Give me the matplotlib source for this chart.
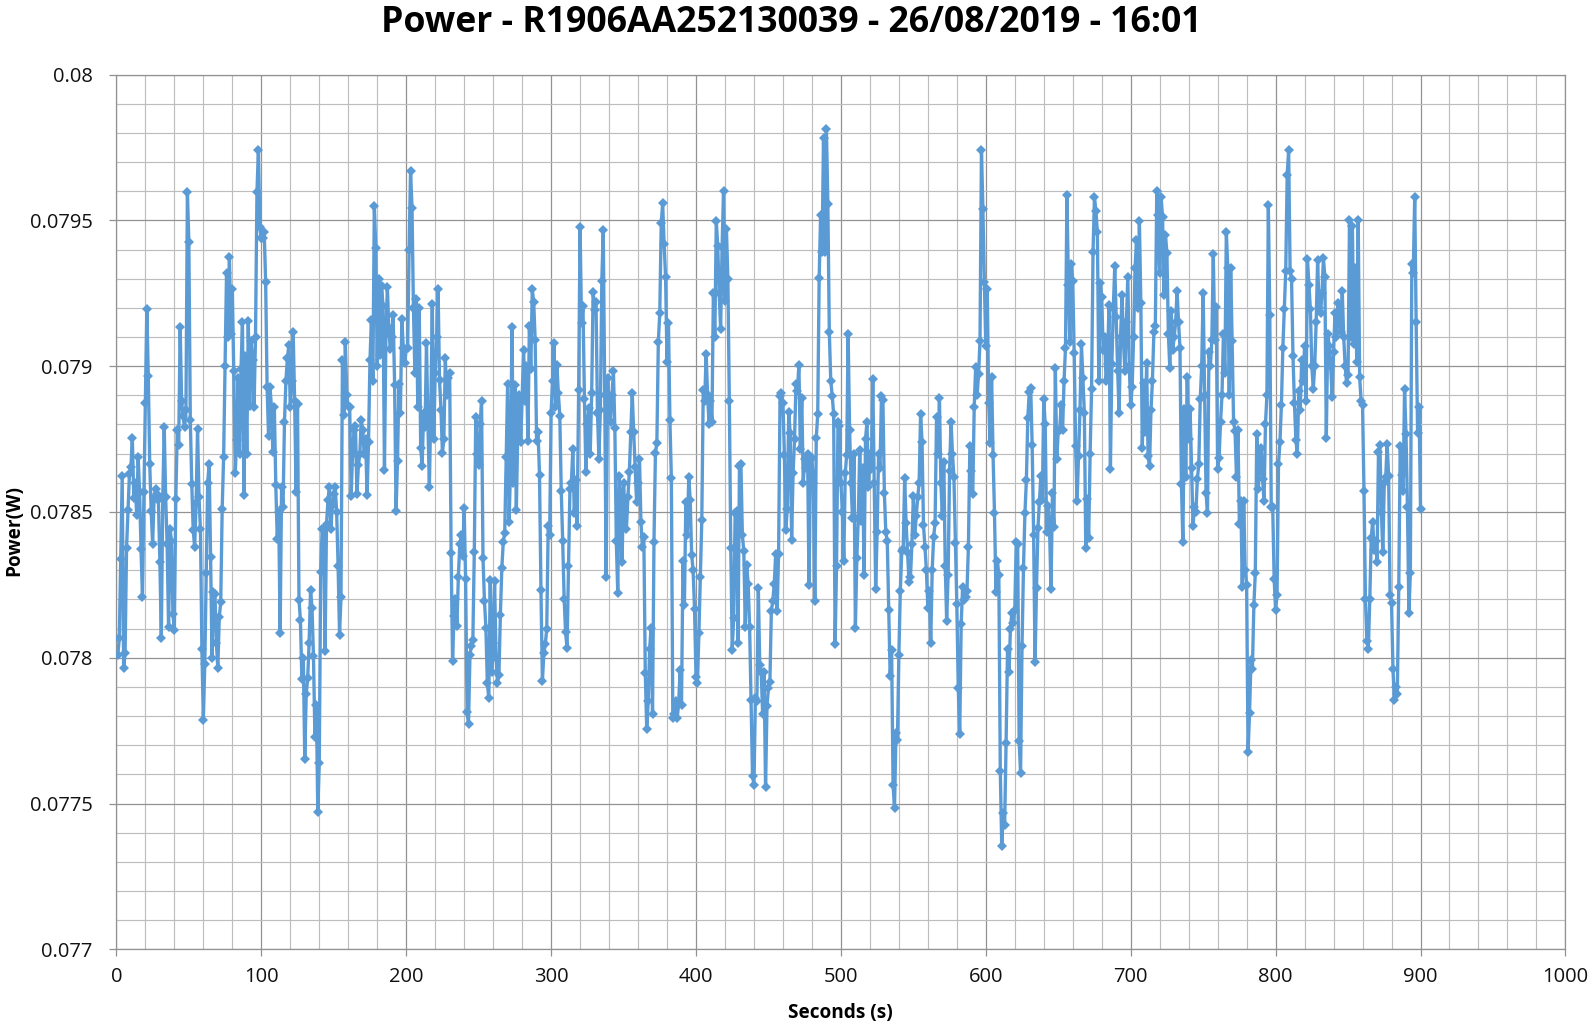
import numpy as np
import matplotlib
matplotlib.use('Agg')
import matplotlib.pyplot as plt

# readings in microwatts, one row = one 20 s grid cell
power_uw = [
    78010,78066,78340,78623,77964,78016,78375,78507,78630,78653,78753,78548,78600,78488,78690,78567,78373,78207,78567,78873,
    79196,78967,78665,78503,78390,78548,78578,78560,78540,78330,78066,78550,78790,78550,78390,78106,78443,78400,78150,78096,
    78546,78780,78730,79136,78880,78830,78790,78850,79596,79427,78817,78597,78439,78379,78530,78786,78550,78440,78030,77785,
    77979,78289,78600,78665,78346,78000,78226,78218,78050,77964,78140,78190,78510,78690,79000,79319,79100,79376,79109,79266,
    78982,78633,78747,78960,78700,78990,79151,78558,79034,78698,79154,78862,79087,79020,78860,79100,79596,79741,79476,79438,
    79440,79461,79289,78930,78760,78930,78860,78705,78860,78593,78406,78500,78084,78585,78518,78810,78950,79027,79072,78860,
    78950,79117,78880,78570,78870,78199,78130,77927,78000,77654,77874,77930,78050,78234,78170,78006,77729,77837,77470,77640,
    78293,78443,78440,78024,78458,78540,78585,78440,78520,78560,78585,78500,78316,78079,78208,79020,78832,79082,78900,78862,
    78860,78555,78700,78780,78795,78560,78660,78700,78817,78780,78700,78750,78558,78740,79020,79160,78950,79551,79406,79000,
    79300,79040,79274,79207,78645,79109,79270,79130,79060,79100,79174,78937,78503,78675,78940,78840,79162,79064,79012,79060,
    79064,79400,79670,79543,79200,78975,79230,78860,79200,78720,78657,78840,78790,79079,78800,78585,78860,79214,78750,78975,
    79100,79263,78952,78850,78702,78750,79027,78900,78960,78977,78358,77990,78144,78200,78109,78278,78390,78420,78350,78515,
    78270,77813,77774,78009,78040,78061,78364,78825,78700,78660,78800,78880,78341,78196,78102,77912,77862,78266,77950,78050,
    78263,78000,77912,77942,78148,78308,78398,78428,78690,78940,78466,78650,79136,78600,78937,78505,78780,78900,78740,78890,
    79057,78880,79000,78742,79139,78990,79263,79220,79091,78742,78773,78627,78233,77919,78016,78046,78100,78451,78421,78840,
    78950,79079,78860,79005,78907,78830,78573,78400,78203,78087,78034,78316,78578,78600,78716,78495,78610,78453,78918,79476,
    79147,79207,78888,78638,78800,78855,78700,78907,79256,79192,79220,78840,78683,78850,79292,79466,78900,78278,78960,78850,
    78810,78900,78985,78787,78400,78223,78623,78550,78330,78600,78500,78443,78550,78638,78773,78907,78773,78653,78533,78600,
    78683,78466,78379,78413,77949,77754,77850,78031,78102,77807,78398,78702,78738,79084,79181,79491,79558,79419,79307,79016,
    79147,78814,78615,77792,77807,77852,77792,77840,77957,77837,78331,78181,78533,78420,78620,78540,78353,78300,78166,77934,
    77912,78084,78278,78473,78918,78880,79042,78900,78802,78880,78810,79251,79100,79498,79412,79250,79127,79409,79600,79225,
    79472,79300,78882,78376,78027,78137,78495,78503,78050,78657,78665,78421,78365,78106,78317,78252,78106,77855,77596,77564,
    77863,77850,78240,77976,77952,77806,77950,77555,77836,77895,77917,78160,78195,78252,78357,78160,78357,78899,78907,78875,
    78697,78438,78510,78843,78770,78405,78632,78750,78940,78916,79005,78716,78891,78600,78680,78650,78700,78248,78680,78684,
    78600,78195,78754,78835,79304,79519,79393,79782,79393,79814,79555,79118,78950,78899,78835,78046,78316,78810,78794,78600,
    78500,78333,78632,78697,79110,78781,78600,78478,78700,78101,78341,78478,78713,78470,78650,78284,78750,78810,78584,78700,
    78648,78956,78600,78236,78430,78700,78650,78899,78883,78564,78430,78400,78163,77936,78025,77564,77483,77741,77717,78009,
    78228,78365,78373,78616,78462,78360,78260,78276,78389,78554,78420,78486,78550,78600,78835,78741,78454,78381,78300,78171,
    78228,78049,78300,78414,78462,78826,78700,78891,78600,78487,78673,78316,78125,78284,78640,78810,78700,78619,78393,78184,
    77896,77737,78114,78244,78198,78210,78228,78381,78726,78640,78560,78859,78997,78900,78972,79086,79741,79539,79288,79069,
    79264,78875,78737,78964,78697,78495,78224,78333,78284,77612,77353,77467,77426,77708,78030,77952,78098,78155,78120,78163,
    78397,78390,77713,77604,78041,78308,78495,78608,78823,78912,78924,78729,78422,77985,78240,78446,78535,78624,78540,78886,
    78802,78430,78520,78440,78236,78564,78450,78992,78680,78778,78782,78867,78780,78950,79062,79587,79280,79083,79349,79293,
    79044,78726,78537,78691,78850,79076,78960,78841,78376,78544,78411,78700,78922,79391,79580,79531,79461,78950,79286,79237,
    79055,79100,78950,79006,79209,78649,79006,79200,79342,79167,78985,78838,79100,79244,79083,78985,79150,79307,79000,78866,
    78929,79100,79335,79433,79200,79499,79216,78719,78943,78775,79010,78691,78656,78850,78950,79118,79139,79601,79517,79321,
    79580,79510,79244,79450,79388,79111,78992,79188,79055,79100,79150,79258,79153,79062,78596,78397,78852,78621,78964,78750,
    78852,78650,78453,78516,78500,78614,78663,78887,79000,79251,78900,78565,78498,79048,79000,79090,79384,79090,79202,78649,
    78684,78810,78900,79111,78978,79461,79338,78901,79335,79086,78810,78778,78621,78782,78460,78537,78243,78537,78300,78250,
    77676,77809,77991,77963,78180,78292,78768,78579,78670,78719,78614,78537,78800,78900,79552,79174,78516,78516,78271,78162,
    78215,78663,78740,78866,79062,79195,79328,79657,79741,79328,79300,79034,78873,78747,78698,78915,78850,79020,78950,79069,
    78880,79366,79279,79195,79000,78922,79000,79153,79363,79200,79181,79250,79370,79307,78754,79111,79069,79000,78894,79050,
    79181,79100,79216,79150,79118,79258,79100,79000,78943,78971,79500,79100,79482,79076,79335,79013,79503,78964,78880,78866,
    78572,78201,78058,78030,78200,78411,78467,78369,78400,78330,78705,78730,78500,78362,78600,78620,78733,78624,78215,78187,
    77963,77854,77900,77876,78243,78726,78628,78572,78922,78768,78516,78152,78290,79350,79320,79580,79150,78770,78860,78510,
]
seconds = list(range(1, len(power_uw) + 1))
power = [p / 1e6 for p in power_uw]

x_ticks = [0, 100, 200, 300, 400, 500, 600, 700, 800, 900, 1000]
y_ticks = [0.077, 0.0775, 0.078, 0.0785, 0.079, 0.0795, 0.08]
y_labels = ['0.077', '0.0775', '0.078', '0.0785', '0.079', '0.0795', '0.08']

plt.rcParams['font.family'] = ['Open Sans', 'DejaVu Sans']

W, H = 1593, 1029
fig = plt.figure(figsize=(W / 100, H / 100), dpi=100)
ax = fig.add_axes([116.4 / W, 1 - 949.3 / H, (1565.4 - 116.4) / W, (949.3 - 74.6) / H])

ax.plot(seconds, power, color='#5B9BD5', lw=2.4, marker='D', ms=5.4, mew=0, zorder=3)

ax.set_xlim(0, 1000)
ax.set_ylim(0.077, 0.08)
ax.set_xticks(x_ticks)
ax.set_yticks(y_ticks)
ax.set_yticklabels(y_labels)
ax.set_xticks(np.arange(0, 1001, 20), minor=True)
ax.set_yticks(np.arange(0.077, 0.08001, 0.0001), minor=True)

# grid
ax.grid(which='minor', color='#BDBDBD', lw=0.85, zorder=0)
ax.grid(which='major', color='#929292', lw=0.9, zorder=1)
ax.set_axisbelow(True)
ax.tick_params(which='minor', length=0)
ax.tick_params(which='major', length=5, width=0.9, color='#929292', labelsize=14.5, labelcolor='#111111')
ax.tick_params(axis='y', pad=12)
ax.tick_params(axis='x', pad=8)
for s in ax.spines.values():
    s.set_color('#929292')
    s.set_linewidth(0.9)

fig.text(791 / W, 1 - 23 / H, 'Power - R1906AA252130039 - 26/08/2019 - 16:01',
         fontsize=25.7, fontweight='bold', ha='center', va='center', color='black')
fig.text(840 / W, 1 - 1013 / H, 'Seconds (s)', fontsize=13.7, fontweight='bold', ha='center', va='center')
fig.text(14 / W, 1 - 531 / H, 'Power(W)', fontsize=13.7, fontweight='bold', rotation=90, ha='center', va='center')

fig.savefig('out.png', dpi=100)
